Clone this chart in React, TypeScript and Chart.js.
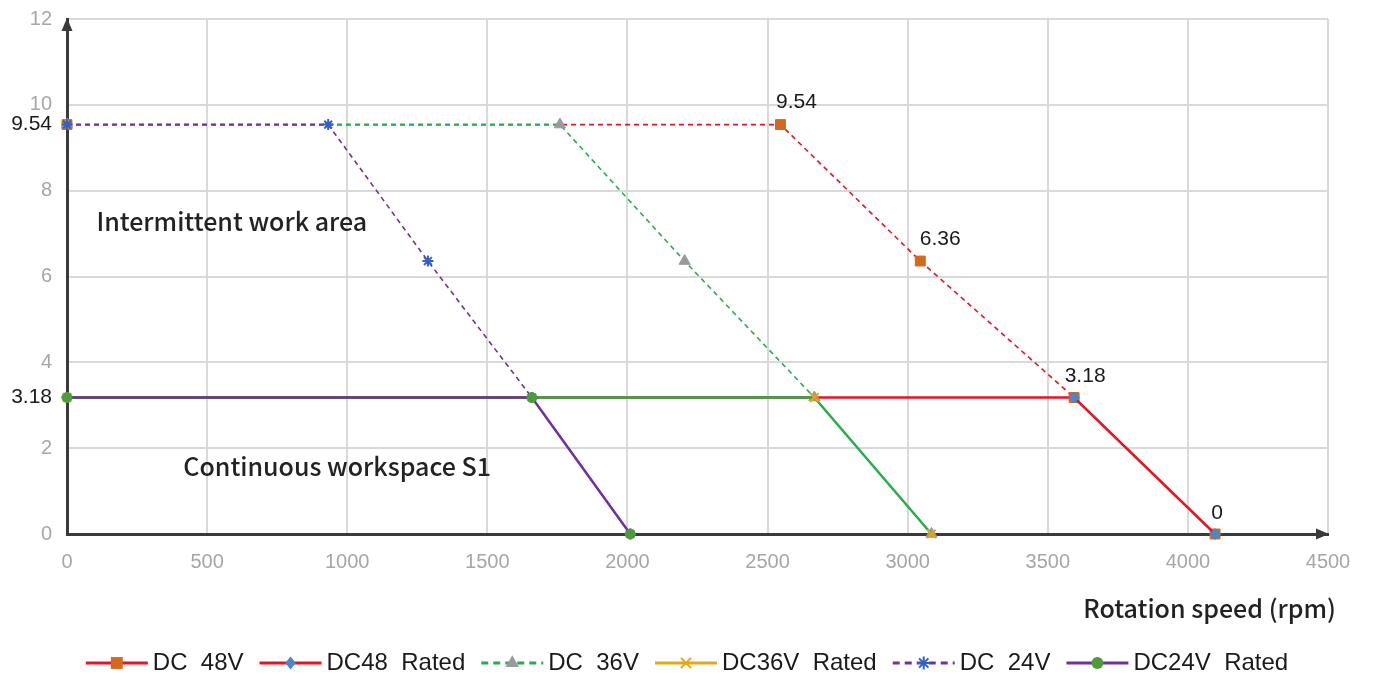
import React, { useEffect, useRef } from 'react';
import { Chart, registerables } from 'chart.js';

Chart.register(...registerables);

// ---------- data ----------
const xTicks = [0, 500, 1000, 1500, 2000, 2500, 3000, 3500, 4000, 4500];
const yTicks = [0, 2, 4, 6, 8, 10, 12];

const seriesNames = ['DC  48V', 'DC48  Rated', 'DC  36V', 'DC36V  Rated', 'DC  24V', 'DC24V  Rated'];

const rpmDC48 = [0, 2546, 3045, 3594, 4097];
const torqueDC48 = [9.54, 9.54, 6.36, 3.18, 0];
const rpmDC48Rated = [0, 3594, 4097];
const torqueDC48Rated = [3.18, 3.18, 0];

const rpmDC36 = [0, 1759, 2204, 2667, 3085];
const torqueDC36 = [9.54, 9.54, 6.36, 3.18, 0];
const rpmDC36Rated = [0, 2667, 3085];
const torqueDC36Rated = [3.18, 3.18, 0];

const rpmDC24 = [0, 932, 1288, 1659, 2010];
const torqueDC24 = [9.54, 9.54, 6.36, 3.18, 0];
const rpmDC24Rated = [0, 1659, 2010];
const torqueDC24Rated = [3.18, 3.18, 0];

// data labels: [datasetIndex, pointIndex, text]
const dataLabels: [number, number, string][] = [
  [0, 0, '9.54'],
  [5, 0, '3.18'],
  [0, 1, '9.54'],
  [0, 2, '6.36'],
  [0, 3, '3.18'],
  [0, 4, '0'],
];

const areaTexts = ['Intermittent work area', 'Continuous workspace S1'];
const areaAnchorsRpm = [105, 415];
const areaAnchorsTorque = [7.27, 1.58];

const xTitle = 'Rotation speed (rpm)';

const toPts = (xs: number[], ys: number[]) => xs.map((x, i) => ({ x, y: ys[i] }));

// ---------- drawing helpers ----------
function drawMarker(ctx: CanvasRenderingContext2D, style: string, x: number, y: number, r: number, fill: string, stroke: string, lw: number) {
  ctx.save();
  ctx.fillStyle = fill;
  ctx.strokeStyle = stroke;
  ctx.lineWidth = lw;
  ctx.setLineDash([]);
  ctx.beginPath();
  if (style === 'rect') {
    const s = r * Math.SQRT1_2;
    ctx.rect(x - s, y - s, 2 * s, 2 * s);
    ctx.fill();
  } else if (style === 'rectRot') {
    ctx.moveTo(x, y - r);
    ctx.lineTo(x + r * 0.8, y);
    ctx.lineTo(x, y + r);
    ctx.lineTo(x - r * 0.8, y);
    ctx.closePath();
    ctx.fill();
  } else if (style === 'triangle') {
    ctx.moveTo(x, y - r);
    ctx.lineTo(x + r * 0.866, y + r * 0.5);
    ctx.lineTo(x - r * 0.866, y + r * 0.5);
    ctx.closePath();
    ctx.fill();
  } else if (style === 'circle') {
    ctx.arc(x, y, r, 0, Math.PI * 2);
    ctx.fill();
  } else if (style === 'crossRot' || style === 'star') {
    const d = r * Math.SQRT1_2;
    ctx.moveTo(x - d, y - d);
    ctx.lineTo(x + d, y + d);
    ctx.moveTo(x - d, y + d);
    ctx.lineTo(x + d, y - d);
    if (style === 'star') {
      ctx.moveTo(x, y - r);
      ctx.lineTo(x, y + r);
      ctx.moveTo(x - r, y);
      ctx.lineTo(x + r, y);
    }
    ctx.stroke();
  }
  ctx.restore();
}

const decorPlugin = {
  id: 'decor',
  beforeDatasetsDraw(chart: any) {
    const { ctx, chartArea } = chart;
    ctx.save();
    ctx.fillStyle = '#3a3a3a';
    ctx.beginPath();
    ctx.moveTo(chartArea.left, chartArea.top - 1);
    ctx.lineTo(chartArea.left + 5.5, chartArea.top + 12);
    ctx.lineTo(chartArea.left - 5.5, chartArea.top + 12);
    ctx.closePath();
    ctx.fill();
    ctx.beginPath();
    ctx.moveTo(chartArea.right + 1, chartArea.bottom);
    ctx.lineTo(chartArea.right - 12, chartArea.bottom - 5.5);
    ctx.lineTo(chartArea.right - 12, chartArea.bottom + 5.5);
    ctx.closePath();
    ctx.fill();
    ctx.restore();
  },
  afterDatasetsDraw(chart: any) {
    const { ctx } = chart;
    const xs = chart.scales.x;
    const ys = chart.scales.y;
    ctx.save();
    ctx.fillStyle = '#1a1a1a';
    ctx.font = '21px "Liberation Sans", Arial, sans-serif';
    ctx.textBaseline = 'middle';
    const offsets: Record<string, [number, number]> = { '1': [16, -22], '2': [20, -22], '3': [11, -21], '4': [2, -21] };
    dataLabels.forEach(([di, pi, text]) => {
      const p = chart.data.datasets[di].data[pi];
      const px = xs.getPixelForValue(p.x);
      const py = ys.getPixelForValue(p.y);
      if (p.x === 0) {
        ctx.textAlign = 'right';
        ctx.fillText(text, px - 15, py);
      } else {
        const o = offsets[String(pi)] || [0, -21];
        ctx.textAlign = 'center';
        ctx.fillText(text, px + o[0], py + o[1]);
      }
    });
    ctx.fillStyle = '#222222';
    ctx.font = '500 25px "Noto Sans CJK SC", "Noto Sans", sans-serif';
    ctx.textAlign = 'left';
    areaTexts.forEach((t, i) => {
      ctx.fillText(t, xs.getPixelForValue(areaAnchorsRpm[i]), ys.getPixelForValue(areaAnchorsTorque[i]));
    });
    ctx.restore();
  },
  afterDraw(chart: any) {
    const { ctx } = chart;
    ctx.save();
    ctx.fillStyle = '#222222';
    ctx.font = '500 25px "Noto Sans CJK SC", "Noto Sans", sans-serif';
    ctx.textAlign = 'right';
    ctx.textBaseline = 'middle';
    ctx.fillText(xTitle, 1336, 608);

    // legend
    ctx.font = '24px "Liberation Sans", Arial, sans-serif';
    const lineLen = 62;
    const gap = 5;
    const spacing = 16;
    const dsets = chart.data.datasets;
    const widths = dsets.map((d: any) => lineLen + gap + ctx.measureText(d.label).width);
    const total = widths.reduce((a: number, b: number) => a + b, 0) + spacing * (dsets.length - 1);
    let x = 687 - total / 2;
    const y = 663;
    dsets.forEach((d: any, i: number) => {
      ctx.save();
      ctx.strokeStyle = d.borderColor;
      ctx.lineWidth = 3;
      ctx.setLineDash(d.legendDashed ? [7, 5] : []);
      ctx.beginPath();
      ctx.moveTo(x, y);
      ctx.lineTo(x + lineLen, y);
      ctx.stroke();
      ctx.restore();
      drawMarker(ctx, d.pointStyle, x + lineLen / 2, y, d.pointRadius * 1.2, d.pointBackgroundColor, d.pointBorderColor, d.pointBorderWidth);
      ctx.fillStyle = '#1a1a1a';
      ctx.textAlign = 'left';
      ctx.fillText(d.label, x + lineLen + gap, y);
      x += widths[i] + spacing;
    });
    ctx.restore();
  },
};

const RED = '#e8141f';
const GREEN = '#27ae4a';
const PURPLE = '#7030a0';
const ORANGE = '#d2691e';
const BLUE_D = '#4a86c8';
const GRAY = '#9a9a9a';
const GOLD = '#e6a712';
const BLUE_S = '#3060c8';
const GREEN_DOT = '#4f9a3a';

export default function App() {
  const ref = useRef<HTMLCanvasElement>(null);
  useEffect(() => {
    document.body.style.margin = '0';
    const dashed = [5, 4];
    const tickFont = { family: '"Liberation Sans", Arial, sans-serif', size: 20 };
    const chart = new Chart(ref.current as HTMLCanvasElement, {
      type: 'scatter',
      data: {
        datasets: [
          {
            label: seriesNames[0], data: toPts(rpmDC48, torqueDC48), showLine: true, order: 6, clip: false,
            borderColor: RED, borderWidth: 1.6, borderDash: dashed, legendDashed: false,
            pointStyle: 'rect', pointRadius: 7, pointBackgroundColor: ORANGE, pointBorderColor: ORANGE, pointBorderWidth: 1,
          },
          {
            label: seriesNames[1], data: toPts(rpmDC48Rated, torqueDC48Rated), showLine: true, order: 5, clip: false,
            borderColor: RED, borderWidth: 2.5, legendDashed: false,
            pointStyle: 'rectRot', pointRadius: 5.5, pointBackgroundColor: BLUE_D, pointBorderColor: BLUE_D, pointBorderWidth: 1,
          },
          {
            label: seriesNames[2], data: toPts(rpmDC36, torqueDC36), showLine: true, order: 4, clip: false,
            borderColor: GREEN, borderWidth: 1.6, borderDash: dashed, legendDashed: true,
            pointStyle: 'triangle', pointRadius: 6.5, pointBackgroundColor: GRAY, pointBorderColor: GRAY, pointBorderWidth: 1,
          },
          {
            label: seriesNames[3], data: toPts(rpmDC36Rated, torqueDC36Rated), showLine: true, order: 3, clip: false,
            borderColor: GOLD, borderWidth: 2.5, legendDashed: false,
            segment: { borderColor: () => GREEN },
            pointStyle: 'crossRot', pointRadius: 6, pointBackgroundColor: GOLD, pointBorderColor: GOLD, pointBorderWidth: 2,
          },
          {
            label: seriesNames[4], data: toPts(rpmDC24, torqueDC24), showLine: true, order: 2, clip: false,
            borderColor: PURPLE, borderWidth: 1.6, borderDash: dashed, legendDashed: true,
            pointStyle: 'star', pointRadius: 5.5, pointBackgroundColor: BLUE_S, pointBorderColor: BLUE_S, pointBorderWidth: 2,
          },
          {
            label: seriesNames[5], data: toPts(rpmDC24Rated, torqueDC24Rated), showLine: true, order: 1, clip: false,
            borderColor: PURPLE, borderWidth: 2.5, legendDashed: false,
            pointStyle: 'circle', pointRadius: 5, pointBackgroundColor: GREEN_DOT, pointBorderColor: GREEN_DOT, pointBorderWidth: 1,
          },
        ] as any,
      },
      options: {
        animation: false,
        responsive: false,
        devicePixelRatio: 1,
        layout: { padding: { top: 19, right: 57, left: 0, bottom: 0 } },
        plugins: { legend: { display: false }, tooltip: { enabled: false } },
        elements: { line: { tension: 0 } },
        scales: {
          x: {
            type: 'linear', min: 0, max: 4500,
            afterBuildTicks: (s: any) => { s.ticks = xTicks.map((v) => ({ value: v })); },
            afterFit: (s: any) => { s.height = 145; },
            grid: { color: '#d9d9d9', lineWidth: 2, drawTicks: false },
            border: { color: '#3a3a3a', width: 3 },
            ticks: { color: '#a6a6a6', font: tickFont, padding: 16, maxRotation: 0, callback: (v: any) => String(v) },
          },
          y: {
            type: 'linear', min: 0, max: 12,
            afterBuildTicks: (s: any) => { s.ticks = yTicks.map((v) => ({ value: v })); },
            afterFit: (s: any) => { s.width = 67; s.paddingTop = 0; s.paddingBottom = 0; },
            grid: { color: '#d9d9d9', lineWidth: 2, drawTicks: false },
            border: { color: '#3a3a3a', width: 3 },
            ticks: { color: '#a6a6a6', font: tickFont, padding: 15, callback: (v: any) => String(v) },
          },
        },
      } as any,
      plugins: [decorPlugin],
    });
    return () => chart.destroy();
  }, []);
  return (
    <div style={{ position: 'absolute', left: 0, top: 0, width: 1385, height: 679, background: '#ffffff' }}>
      <canvas ref={ref} width={1385} height={679} style={{ display: 'block', width: 1385, height: 679 }} />
    </div>
  );
}
